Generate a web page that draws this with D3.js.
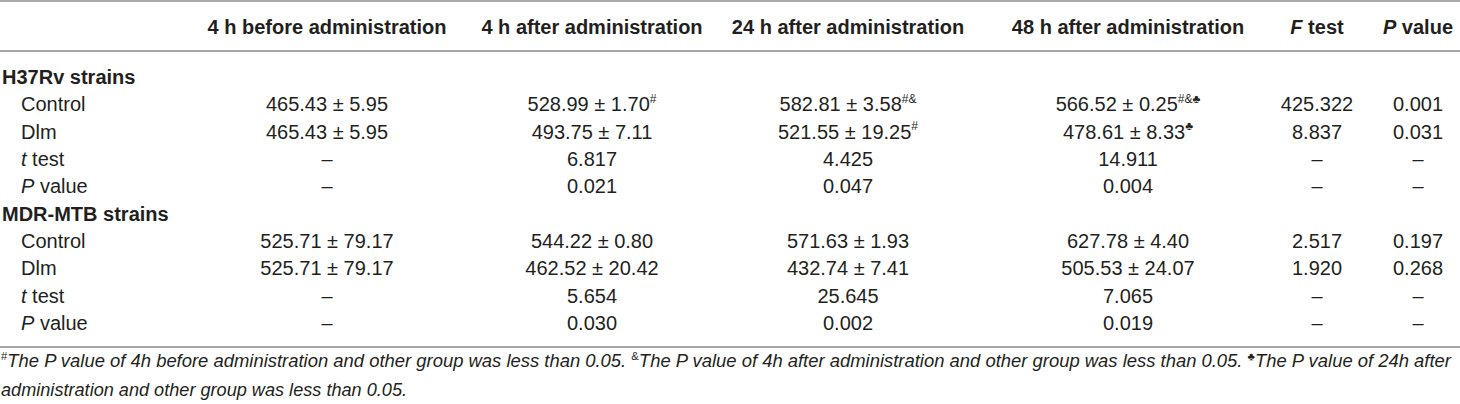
<!DOCTYPE html>
<html>
<head>
<meta charset="utf-8">
<script src="https://cdn.jsdelivr.net/npm/d3@7"></script>
<style>
  body { margin: 0; background: #fff; }
  svg { display: block; font-family: "Liberation Sans", Arial, sans-serif; }
</style>
</head>
<body>
<div id="chart"></div>
<script>
// table content
const columns = ["4 h before administration", "4 h after administration", "24 h after administration", "48 h after administration", "F test", "P value"];
const groups = ["H37Rv strains", "MDR-MTB strains"];
const rowLabels = ["Control", "Dlm", "t test", "P value"];

const h37Control = ["465.43 ± 5.95", "528.99 ± 1.70", "582.81 ± 3.58", "566.52 ± 0.25", "425.322", "0.001"];
const h37ControlSup = ["", "#", "#&", "#&♣", "", ""];
const h37Dlm = ["465.43 ± 5.95", "493.75 ± 7.11", "521.55 ± 19.25", "478.61 ± 8.33", "8.837", "0.031"];
const h37DlmSup = ["", "", "#", "♣", "", ""];
const h37T = ["–", "6.817", "4.425", "14.911", "–", "–"];
const h37P = ["–", "0.021", "0.047", "0.004", "–", "–"];

const mdrControl = ["525.71 ± 79.17", "544.22 ± 0.80", "571.63 ± 1.93", "627.78 ± 4.40", "2.517", "0.197"];
const mdrDlm = ["525.71 ± 79.17", "462.52 ± 20.42", "432.74 ± 7.41", "505.53 ± 24.07", "1.920", "0.268"];
const mdrT = ["–", "5.654", "25.645", "7.065", "–", "–"];
const mdrP = ["–", "0.030", "0.002", "0.019", "–", "–"];

// [superscript, text, italic?]
const footnote1 = [["#", "The "], ["", "P", "i"], ["", " value of 4h before administration and other group was less than 0.05. "],
  ["&", "The "], ["", "P", "i"], ["", " value of 4h after administration and other group was less than 0.05. "],
  ["♣", "The "], ["", "P", "i"], ["", " value of 24h after"]];
const footnote2 = "administration and other group was less than 0.05.";

const width = 1460, height = 404;
const textColor = "#231f20", ruleColor = "#a7a9ac";

// one entry per body row
let rows = [];
[[h37Control, h37ControlSup], [h37Dlm, h37DlmSup], [h37T, null], [h37P, null]].forEach((r, i) =>
  rows.push({ id: "h" + i, label: rowLabels[i], vals: r[0], sups: r[1] }));
[[mdrControl, null], [mdrDlm, null], [mdrT, null], [mdrP, null]].forEach((r, i) =>
  rows.push({ id: "m" + i, label: rowLabels[i], vals: r[0], sups: r[1] }));
rows.splice(0, 0, { id: "g0", group: groups[0] });
rows.splice(5, 0, { id: "g1", group: groups[1] });

const x = d3.scaleOrdinal().domain(columns).range([327, 592, 848, 1128, 1317, 1418]);
const y = d3.scalePoint().domain(rows.map(d => d.id)).range([77, 323]);

const svg = d3.select("#chart").append("svg")
  .attr("width", width)
  .attr("height", height);

const fs = 20;

// rules
svg.selectAll(".rule")
  .data([1, 51, 347])
  .enter().append("line")
    .attr("x1", 0).attr("x2", width)
    .attr("y1", d => d).attr("y2", d => d)
    .attr("stroke", ruleColor)
    .attr("stroke-width", 2);

// header
const head = svg.selectAll(".head")
  .data(columns)
  .enter().append("text")
    .attr("x", d => x(d))
    .attr("y", 27)
    .attr("dy", "0.35em")
    .attr("text-anchor", "middle")
    .attr("font-size", fs)
    .attr("font-weight", "bold")
    .attr("fill", textColor);
head.each(function(d) {
  const t = d3.select(this);
  if (d === "F test" || d === "P value") {
    t.append("tspan").attr("font-style", "italic").text(d[0]);
    t.append("tspan").text(d.slice(1));
  } else t.text(d);
});

// group titles
svg.selectAll(".group")
  .data(rows.filter(d => d.group))
  .enter().append("text")
    .attr("x", 2)
    .attr("y", d => y(d.id))
    .attr("dy", "0.35em")
    .attr("font-size", fs)
    .attr("font-weight", "bold")
    .attr("fill", textColor)
    .text(d => d.group);

const body = rows.filter(d => !d.group);

// row labels
const lab = svg.selectAll(".label")
  .data(body)
  .enter().append("text")
    .attr("x", 21)
    .attr("y", d => y(d.id))
    .attr("dy", "0.35em")
    .attr("font-size", fs)
    .attr("fill", textColor);
lab.each(function(d) {
  const t = d3.select(this);
  if (d.label === "t test" || d.label === "P value") {
    t.append("tspan").attr("font-style", "italic").text(d.label[0]);
    t.append("tspan").text(d.label.slice(1));
  } else t.text(d.label);
});

// cells
body.forEach(r => {
  const cells = svg.selectAll(".cell-" + r.id)
    .data(r.vals.map((v, i) => ({ v: v, sup: r.sups ? r.sups[i] : "", col: columns[i] })))
    .enter().append("text")
      .attr("x", d => x(d.col))
      .attr("y", y(r.id))
      .attr("dy", "0.35em")
      .attr("text-anchor", "middle")
      .attr("font-size", fs)
      .attr("fill", textColor);
  cells.append("tspan").text(d => d.v);
  cells.filter(d => d.sup).append("tspan")
    .attr("font-size", 12)
    .attr("dy", "-0.7em")
    .text(d => d.sup);
});

// footnote
const f1 = svg.append("text")
  .attr("x", 1)
  .attr("y", 367)
  .attr("dy", "0.35em")
  .attr("font-size", 18)
  .attr("font-style", "italic")
  .attr("fill", textColor)
  .attr("textLength", 1450)
  .attr("lengthAdjust", "spacingAndGlyphs");
footnote1.forEach(p => {
  if (p[2]) {
    f1.append("tspan").text(p[1]);
  } else {
    if (p[0]) f1.append("tspan").attr("font-size", 11).attr("font-style", "normal").attr("dy", -7).text(p[0]);
    f1.append("tspan").attr("dy", p[0] ? 7 : 0).text(p[1]);
  }
});
svg.append("text")
  .attr("x", 1)
  .attr("y", 390)
  .attr("dy", "0.35em")
  .attr("font-size", 18)
  .attr("font-style", "italic")
  .attr("fill", textColor)
  .attr("textLength", 406)
  .attr("lengthAdjust", "spacingAndGlyphs")
  .text(footnote2);
</script>
</body>
</html>
